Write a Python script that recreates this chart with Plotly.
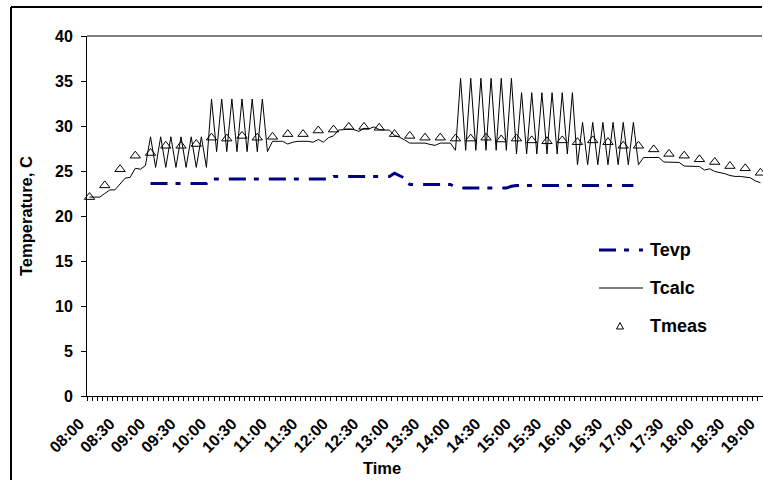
import plotly.graph_objects as go

# 5-minute time categories from 08:00 to 19:00
times = [f"{h:02d}:{m:02d}" for h in range(8, 20) for m in range(0, 60, 5)][:133]

# Calculated temperature, one value per 5 minutes (08:00 .. 19:00)
tcalc = [
    22.1, 22.1, 22.1, 22.5, 22.9, 22.9, 23.5, 24.2, 24.3, 25.3, 25.2, 25.6,      # 08
    28.8, 25.4, 28.8, 25.4, 28.8, 25.4, 28.8, 25.4, 28.8, 25.4, 28.8, 25.4,      # 09
    33.0, 27.15, 33.0, 27.15, 33.0, 27.15, 33.0, 27.15, 33.0, 27.15, 33.0, 27.15,  # 10
    28.3, 28.3, 28.3, 28.0, 28.2, 28.3, 28.3, 28.3, 28.2, 28.5, 28.2, 28.7,      # 11
    28.9, 29.55, 29.6, 29.65, 29.6, 29.4, 29.75, 29.7, 29.9, 29.6, 29.55, 29.55,  # 12
    28.95, 28.75, 28.45, 28.1, 28.1, 28.1, 28.1, 27.95, 27.85, 28.1, 28.1, 28.1,  # 13
    27.3, 35.3, 27.3, 35.3, 27.3, 35.3, 27.3, 35.3, 27.3, 35.3, 27.3, 35.3,      # 14
    26.9, 33.7, 26.9, 33.7, 26.9, 33.7, 26.9, 33.7, 26.9, 33.7, 26.9, 33.7,      # 15
    25.7, 30.4, 25.7, 30.4, 25.7, 30.4, 25.7, 30.4, 25.7, 30.4, 25.7, 30.4,      # 16
    25.7, 26.5, 26.5, 26.5, 26.5, 26.0, 26.0, 26.0, 25.95, 25.55, 25.55, 25.55,  # 17
    25.5, 25.1, 25.25, 24.95, 24.85, 24.7, 24.5, 24.4, 24.4, 24.35, 24.25, 23.9,  # 18
    23.7,                                                                        # 19
]

# Measured temperature, every 15 minutes (08:00 .. 19:00)
tmeas_times = times[::3]
tmeas = [
    22.1, 23.4, 25.2, 26.7,
    27.0, 27.8, 27.8, 28.0,
    28.7, 28.6, 28.9, 28.7,
    28.8, 29.1, 29.1, 29.5,
    29.6, 29.9, 29.9, 29.8,
    29.1, 28.9, 28.7, 28.7,
    28.6, 28.6, 28.7, 28.5,
    28.6, 28.4, 28.3, 28.4,
    28.2, 28.4, 28.2, 27.8,
    27.8, 27.4, 26.9, 26.7,
    26.3, 26.0, 25.55, 25.3,
    24.8,
]

# Evaporation temperature, every 5 minutes (09:00 .. 16:55)
tevp_times = times[12:108]
tevp = [
    23.6, 23.6, 23.6, 23.6, 23.6, 23.6, 23.6, 23.6, 23.6, 23.6, 23.6, 23.6,      # 09
    24.1, 24.1, 24.1, 24.1, 24.1, 24.1, 24.1, 24.1, 24.1, 24.1, 24.1, 24.1,      # 10
    24.1, 24.1, 24.1, 24.1, 24.1, 24.1, 24.1, 24.1, 24.1, 24.1, 24.1, 24.1,      # 11
    24.4, 24.4, 24.4, 24.4, 24.4, 24.4, 24.4, 24.4, 24.4, 24.4, 24.4, 24.4,      # 12
    24.75, 24.5, 24.2, 23.5, 23.5, 23.5, 23.5, 23.5, 23.5, 23.5, 23.5, 23.5,     # 13
    23.2, 23.1, 23.1, 23.1, 23.1, 23.1, 23.1, 23.1, 23.1, 23.1, 23.1, 23.3,      # 14
    23.4, 23.4, 23.4, 23.4, 23.4, 23.4, 23.4, 23.4, 23.4, 23.4, 23.4, 23.4,      # 15
    23.4, 23.4, 23.4, 23.4, 23.4, 23.4, 23.4, 23.4, 23.4, 23.4, 23.4, 23.4,      # 16
]

# Only the full and half hours carry a label
tick_text = [t if t[3:] in ("00", "30") else "" for t in times]

W, H = 763, 480
L, R, T, B = 87, 0, 36, 84
PW, PH = W - L - R, H - T - B


def px(x):
    return (x - L) / PW


def py(y):
    return (H - B - y) / PH


NAVY = "#000080"
FONT = "Liberation Sans, Arial, sans-serif"
EVP_DASH = "17px,8px,5px,10px"

fig = go.Figure()
fig.add_trace(go.Scatter(
    x=tevp_times, y=tevp, mode="lines", name="Tevp",
    line=dict(color=NAVY, width=3, dash=EVP_DASH),
))
fig.add_trace(go.Scatter(
    x=times, y=tcalc, mode="lines", name="Tcalc",
    line=dict(color="black", width=1),
))
fig.add_trace(go.Scatter(
    x=tmeas_times, y=tmeas, mode="markers", name="Tmeas", cliponaxis=False,
    marker=dict(symbol="triangle-up-open", size=9, color="black", line=dict(width=1, color="black")),
))

bold = dict(family=FONT, color="black", weight="bold")

shapes = [
    # outer chart frame: left and top sides (the others run past the page)
    dict(type="line", xref="paper", yref="paper", x0=px(11), x1=px(11), y0=py(490), y1=py(7),
         line=dict(color="black", width=2)),
    dict(type="line", xref="paper", yref="paper", x0=px(11), x1=px(762), y0=py(7), y1=py(7),
         line=dict(color="black", width=2)),
    # top edge of the plot area
    dict(type="line", xref="paper", yref="paper", x0=0, x1=px(762), y0=1, y1=1,
         line=dict(color="black", width=1)),
    # legend samples
    dict(type="line", xref="paper", yref="paper", x0=px(599), x1=px(643), y0=py(250), y1=py(250),
         line=dict(color=NAVY, width=3, dash=EVP_DASH)),
    dict(type="line", xref="paper", yref="paper", x0=px(599), x1=px(643), y0=py(288), y1=py(288),
         line=dict(color="black", width=1)),
    dict(type="path", xref="paper", yref="paper", xsizemode="pixel", ysizemode="pixel",
         xanchor=px(620), yanchor=py(326), path="M-3.5,-3 L3.5,-3 L0,3.5 Z",
         line=dict(color="black", width=1)),
]

annotations = [
    dict(text="Temperature, C", textangle=-90, xref="paper", yref="paper",
         x=px(26), y=py(216), xanchor="center", yanchor="middle",
         showarrow=False, font=dict(size=16.5, **bold)),
    dict(text="Time", xref="paper", yref="paper", x=px(382), y=py(468),
         xanchor="center", yanchor="middle",
         showarrow=False, font=dict(size=16.5, **bold)),
]
for name, ypx in (("Tevp", 250), ("Tcalc", 288), ("Tmeas", 326)):
    annotations.append(dict(text=name, xref="paper", yref="paper", x=px(648), y=py(ypx),
                            xanchor="left", yanchor="middle", showarrow=False,
                            font=dict(size=18, **bold)))

fig.update_layout(
    width=W, height=H,
    margin=dict(l=L, r=R, t=T, b=B, pad=0),
    paper_bgcolor="white", plot_bgcolor="white",
    showlegend=False,
    shapes=shapes,
    annotations=annotations,
    xaxis=dict(
        type="category", categoryorder="array", categoryarray=times,
        range=[-0.5, len(times) - 0.5],
        tickmode="array", tickvals=times, ticktext=tick_text,
        tickson="boundaries", ticks="outside", ticklen=4, tickcolor="black",
        tickangle=-45, tickfont=dict(size=16, **bold),
        ticklabelstandoff=11, ticklabelshift=-10,
        showline=True, linecolor="black", linewidth=1,
        showgrid=False, zeroline=False,
    ),
    yaxis=dict(
        range=[0, 40], tick0=0, dtick=5,
        ticks="outside", ticklen=5, tickcolor="black",
        tickfont=dict(size=16, **bold), ticklabelstandoff=5,
        showline=True, linecolor="black", linewidth=1,
        showgrid=False, zeroline=False,
    ),
)

fig.write_html("out.html", config={"displayModeBar": False})
